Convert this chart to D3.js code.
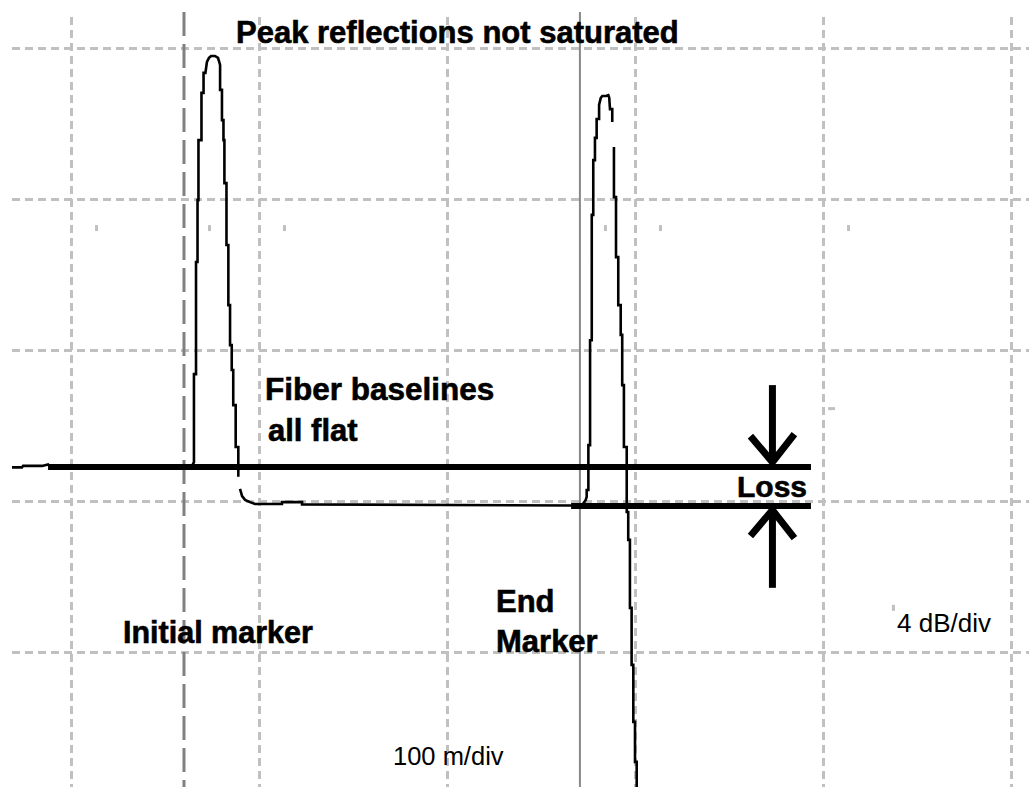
<!DOCTYPE html>
<html>
<head>
<meta charset="utf-8">
<script src="https://cdn.jsdelivr.net/npm/d3@7/dist/d3.min.js"></script>
<style>
  html, body { margin: 0; padding: 0; background: #fff; }
  svg { display: block; }
</style>
</head>
<body>
<div class="chart"></div>
<script>
var svgWidth = 1029;
var svgHeight = 787;

// grid divisions: 100 m/div across, 4 dB/div up
var distTicks = [0, 100, 200, 300, 400, 500];
var dbTicks = [0, 4, 8, 12, 16];

// OTDR trace (null = gap in the trace)
var traceDist = [
  -31.4, -26.1, -25.5, -15.4, -12.2, -11.2, 64.4, 65.4, 65.4, 66.5, 66.5, 67.3, 67.3, 67.8, 67.8,
  69.4, 69.4, 70.5, 70.5, 71.5, 72.3, 73.4, 74.5, 76.6, 78.2, 79.3, 79.3, 80.3, 80.3, 81.1, 81.1,
  81.6, 81.6, 82.7, 82.7, 83.7, 83.7, 84.6, 84.6, 85.5, 85.5, 86.3, 86.3, 87.6, 87.6, 89.0, 89.0,
  null,
  89.9, 91.0, 92.6, 95.2, 97.9, 112.2, 112.2, 122.9, 122.9, 266.5, 272.3, 273.8, 274.3, 274.3,
  275.2, 275.2, 276.1, 276.1, 277.0, 277.0, 277.8, 277.8, 278.7, 278.7, 279.6, 279.6, 280.9, 280.9,
  281.8, 282.6, 284.6, 285.8, 286.3, 286.7, 287.9, 287.9,
  null,
  288.8, 288.8, 289.9, 289.9, 291.1, 291.1, 292.4, 292.4, 293.2, 293.2, 294.1, 294.1, 295.6, 295.6,
  296.4, 296.4, 297.3, 297.3, 298.2, 298.2, 299.1, 299.1, 300.0, 300.0, 300.9, 300.9
];
var traceDb = [
  4.89, 4.89, 4.93, 4.93, 4.97, 4.91, 4.93, 5.03, 7.36, 7.36, 10.33, 10.33, 11.97, 11.97, 13.56,
  13.56, 14.81, 14.81, 15.34, 15.34, 15.63, 15.74, 15.79, 15.79, 15.74, 15.55, 14.89, 14.89, 14.09, 14.09, 13.56,
  13.56, 12.42, 12.42, 10.78, 10.78, 9.19, 9.19, 8.13, 8.13, 7.47, 7.47, 6.54, 6.54, 5.43, 5.43, 4.64,
  null,
  4.32, 4.13, 4.03, 3.97, 3.92, 3.92, 3.97, 3.97, 3.91, 3.88, 3.92, 4.03, 4.11, 4.29,
  4.29, 5.48, 5.48, 8.26, 8.26, 11.58, 11.58, 13.03, 13.03, 13.62, 13.62, 14.12, 14.12, 14.49,
  14.68, 14.73, 14.73, 14.75, 14.68, 14.38, 14.38, 14.04,
  null,
  13.38, 12.05, 12.05, 10.46, 10.46, 9.19, 9.19, 8.40, 8.40, 7.07, 7.07, 5.43, 5.43, 3.71,
  3.71, 2.97, 2.97, 1.17, 1.17, -0.34, -0.34, -1.85, -1.85, -2.91, -2.91, -3.58
];

// markers (m)
var initialMarker = 60.1;
var endMarker = 270.7;

// fiber baselines (dB) and their extent (m)
var baselineDb = [4.90, 3.87];
var baselineStart = [-12.2, 266.0];
var baselineEnd = [393.6, 393.6];

// loss arrows
var lossArrowDist = 373.1;
var arrowDownDb = [7.07, 5.03];
var arrowUpDb = [1.70, 3.76];

// stray minor tick dots on the screen
var dotDist = [13.3, 73.4, 113.3, 284.0, 313.3, 413.3, 437.2];
var dotDb = [11.23, 11.23, 11.23, 11.23, 11.23, 11.23, 1.17];
var dashDist = [402.7];
var dashDb = [6.46];

var svg = d3.select(".chart")
  .append("svg")
  .attr("width", svgWidth)
  .attr("height", svgHeight);

var x = d3.scaleLinear().domain([0, 500]).range([71, 1011]);
var y = d3.scaleLinear().domain([0, 16]).range([652, 48]);

var gridColor = "#c0c0c0";

// vertical grid
var xGrid = svg.append("g")
  .attr("transform", "translate(0,17)")
  .call(d3.axisTop(x).tickValues(distTicks).tickSize(-(svgHeight - 17)).tickFormat(""));
xGrid.select(".domain").remove();
xGrid.selectAll("line")
  .attr("stroke", gridColor)
  .attr("stroke-width", 3)
  .attr("stroke-dasharray", "8,5");

// horizontal grid
var yGrid = svg.append("g")
  .attr("transform", "translate(12,0)")
  .call(d3.axisLeft(y).tickValues(dbTicks).tickSize(-(svgWidth - 12)).tickFormat(""));
yGrid.select(".domain").remove();
yGrid.selectAll("line")
  .attr("stroke", gridColor)
  .attr("stroke-width", 3)
  .attr("stroke-dasharray", "8,5");

// little dots and a dash
svg.append("g")
  .selectAll("rect")
  .data(dotDist)
  .enter()
  .append("rect")
  .attr("x", function(d) { return x(d) - 1; })
  .attr("y", function(d, i) { return y(dotDb[i]) - 3; })
  .attr("width", 3)
  .attr("height", 6)
  .attr("fill", gridColor);

svg.append("g")
  .selectAll("rect")
  .data(dashDist)
  .enter()
  .append("rect")
  .attr("x", function(d) { return x(d); })
  .attr("y", function(d, i) { return y(dashDb[i]) - 1; })
  .attr("width", 7)
  .attr("height", 3)
  .attr("fill", gridColor);

// initial marker (dashed) and end marker (solid)
svg.append("line")
  .attr("x1", x(initialMarker)).attr("x2", x(initialMarker))
  .attr("y1", 12).attr("y2", svgHeight)
  .attr("stroke", "#808080")
  .attr("stroke-width", 3)
  .attr("stroke-dasharray", "24,8");

svg.append("line")
  .attr("x1", x(endMarker)).attr("x2", x(endMarker))
  .attr("y1", 12).attr("y2", svgHeight)
  .attr("stroke", "#888")
  .attr("stroke-width", 2);

// trace
var traceData = traceDist.map(function(d, i) { return [d, traceDb[i]]; });
var traceLine = d3.line()
  .defined(function(d) { return d[0] !== null; })
  .x(function(d) { return x(d[0]); })
  .y(function(d) { return y(d[1]); });

svg.append("path")
  .datum(traceData)
  .attr("d", traceLine)
  .attr("fill", "none")
  .attr("stroke", "#000")
  .attr("stroke-width", 2.6)
  .attr("stroke-linejoin", "miter");

// thick baseline lines
svg.append("g")
  .selectAll("line")
  .data(baselineDb)
  .enter()
  .append("line")
  .attr("x1", function(d, i) { return x(baselineStart[i]); })
  .attr("x2", function(d, i) { return x(baselineEnd[i]); })
  .attr("y1", function(d) { return y(d); })
  .attr("y2", function(d) { return y(d); })
  .attr("stroke", "#000")
  .attr("stroke-width", 6);

// loss arrows
function drawArrow(fromDb, toDb, dir) {
  var ax = x(lossArrowDist);
  var tipY = y(toDb);
  svg.append("line")
    .attr("x1", ax).attr("x2", ax)
    .attr("y1", y(fromDb)).attr("y2", tipY)
    .attr("stroke", "#000")
    .attr("stroke-width", 7);
  var head = d3.line();
  svg.append("path")
    .attr("d", head([[ax - 22, tipY - dir * 26], [ax, tipY], [ax + 22, tipY - dir * 28]]))
    .attr("fill", "none")
    .attr("stroke", "#000")
    .attr("stroke-width", 7)
    .attr("stroke-linejoin", "miter");
}
drawArrow(arrowDownDb[0], arrowDownDb[1], 1);
drawArrow(arrowUpDb[0], arrowUpDb[1], -1);

// labels
var labelFont = "'Liberation Sans', Arial, sans-serif";
var labels = [
  { t: "Peak reflections not saturated", x: 236, y: 43, s: 31 },
  { t: "Fiber baselines", x: 265, y: 400, s: 31.5 },
  { t: "all flat", x: 268, y: 441, s: 31 },
  { t: "Loss", x: 737, y: 497, s: 30 },
  { t: "Initial marker", x: 123, y: 643, s: 30.5 },
  { t: "End", x: 496, y: 612, s: 31 },
  { t: "Marker", x: 496, y: 652, s: 31 }
];
svg.append("g")
  .selectAll("text")
  .data(labels)
  .enter()
  .append("text")
  .text(function(d) { return d.t; })
  .attr("x", function(d) { return d.x; })
  .attr("y", function(d) { return d.y; })
  .attr("font-family", labelFont)
  .attr("font-weight", "bold")
  .attr("font-size", function(d) { return d.s; })
  .attr("fill", "#000")
  .attr("stroke", "#000")
  .attr("stroke-width", 0.6);

svg.append("text")
  .text("100 m/div")
  .attr("x", 393)
  .attr("y", 765)
  .attr("font-family", labelFont)
  .attr("font-size", 25.5)
  .attr("fill", "#000");

svg.append("text")
  .text("4 dB/div")
  .attr("x", 897)
  .attr("y", 632)
  .attr("font-family", labelFont)
  .attr("font-size", 26)
  .attr("fill", "#000");
</script>
</body>
</html>
